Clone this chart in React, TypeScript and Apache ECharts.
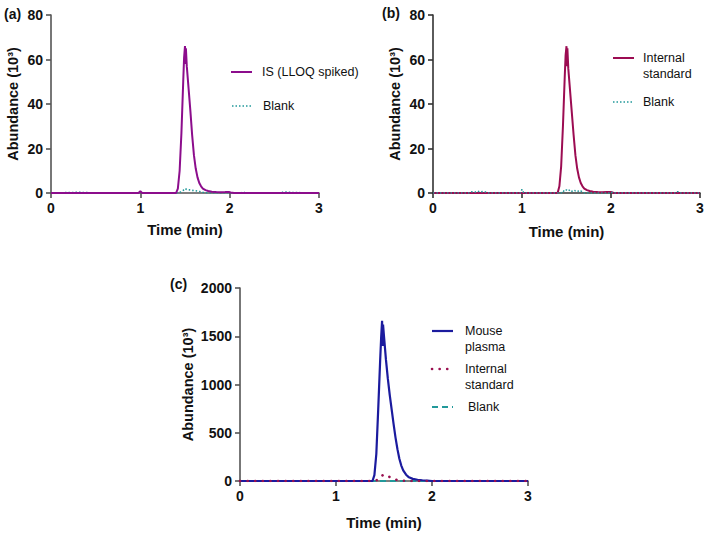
import React, { useEffect, useRef } from "react";
import * as echarts from "echarts";

// ---------- data ----------
const xTicks = [0, 1, 2, 3];
const yTicksAB = [0, 20, 40, 60, 80];
const yTicksC = [0, 500, 1000, 1500, 2000];

// Panel (a)
const timeA = [0, 0.98, 1.0, 1.02, 1.4, 1.42, 1.44, 1.46, 1.48, 1.49, 1.5, 1.505, 1.51, 1.52, 1.54, 1.56, 1.58, 1.6, 1.62, 1.64, 1.66, 1.68, 1.7, 1.73, 1.76, 1.8, 1.85, 1.9, 1.95, 1.99, 2.01, 2.05, 3.0];
const isSpikedA = [0, 0, 0.8, 0, 0, 2, 10, 27, 50, 61, 66, 58, 65, 57, 47, 37, 26, 17, 11, 7, 4.5, 3, 2, 1.3, 0.9, 0.6, 0.4, 0.3, 0.4, 0.5, 0.2, 0, 0];
const timeBlankA = [0, 0.2, 0.3, 0.4, 0.5, 0.98, 1.0, 1.02, 1.42, 1.45, 1.48, 1.5, 1.52, 1.55, 1.58, 1.62, 1.66, 1.7, 1.75, 2.13, 2.15, 2.17, 2.58, 2.6, 2.65, 2.7, 3.0];
const blankA = [0, 0.2, 0.3, 0.2, 0, 0, 0.5, 0, 0, 0.5, 1.2, 2, 1.6, 1.4, 1.2, 1.0, 0.7, 0.3, 0, 0, 0.6, 0, 0, 0.5, 0.4, 0.2, 0];

// Panel (b)
const timeB = [0, 1.4, 1.42, 1.44, 1.46, 1.48, 1.49, 1.5, 1.505, 1.51, 1.52, 1.54, 1.56, 1.58, 1.6, 1.62, 1.64, 1.66, 1.68, 1.7, 1.73, 1.76, 1.8, 1.85, 1.9, 1.95, 2.0, 2.03, 3.0];
const internalStdB = [0, 0, 3, 12, 30, 52, 62, 66, 57, 65, 56, 46, 36, 26, 17, 11, 7, 4.5, 3, 2, 1.3, 0.9, 0.6, 0.4, 0.3, 0.4, 0.5, 0, 0];
const timeBlankB = [0, 0.4, 0.43, 0.47, 0.5, 0.53, 0.57, 0.6, 0.63, 0.98, 1.0, 1.02, 1.44, 1.46, 1.48, 1.5, 1.52, 1.54, 1.56, 1.58, 1.6, 1.62, 1.64, 1.66, 1.68, 1.7, 1.98, 2.0, 2.02, 2.73, 2.75, 2.77, 3.0];
const blankB = [0, 0, 0.6, 0.3, 0.8, 0.4, 0.7, 0.3, 0, 0, 1.6, 0, 0, 1.0, 0.6, 1.4, 0.9, 1.5, 0.8, 1.3, 1.0, 1.2, 0.6, 0.9, 0.4, 0, 0, 0.5, 0, 0, 0.6, 0, 0];

// Panel (c)
const timeC = [0, 1.0, 1.38, 1.4, 1.42, 1.44, 1.46, 1.47, 1.48, 1.485, 1.49, 1.5, 1.52, 1.54, 1.56, 1.58, 1.6, 1.62, 1.64, 1.66, 1.68, 1.7, 1.73, 1.76, 1.8, 1.85, 1.9, 1.95, 2.0, 3.0];
const mousePlasmaC = [0, 0, 0, 60, 280, 750, 1250, 1480, 1660, 1400, 1620, 1500, 1260, 1060, 890, 740, 590, 450, 330, 230, 160, 110, 65, 38, 22, 13, 8, 5, 0, 0];
const timeIsC = [0, 1.4, 1.44, 1.48, 1.5, 1.52, 1.56, 1.6, 1.65, 1.7, 1.8, 3.0];
const internalStdC = [0, 0, 15, 55, 66, 60, 40, 20, 8, 3, 0, 0];
const timeBlankC = [0, 3.0];
const blankC = [0, 0];

// ---------- styles ----------
const FONT = "'Liberation Sans', Arial, Helvetica, sans-serif";
const PURPLE = "#8c0d8c";
const CRIMSON = "#9c0c52";
const NAVY = "#1b1b9e";
const MAROON = "#9a1050";
const TEAL = "#22999a";

const pairs = (xs: number[], ys: number[]) => xs.map((x, i) => [x, ys[i]]);

function makeXAxis(gridIndex: number, nameGap: number, axisColor: string) {
  return {
    type: "value",
    gridIndex,
    min: xTicks[0],
    max: xTicks[xTicks.length - 1],
    interval: 1,
    name: "Time (min)",
    nameLocation: "middle",
    nameGap,
    nameTextStyle: { fontFamily: FONT, fontWeight: "bold", fontSize: 15, color: "#111" },
    axisLine: { show: true, onZero: false, lineStyle: { color: axisColor, width: 1.6 } },
    axisTick: { show: true, length: 5, lineStyle: { color: axisColor, width: 1.6 } },
    axisLabel: { fontFamily: FONT, fontWeight: "bold", fontSize: 14, color: "#111", margin: 8, formatter: (v: number) => String(v) },
    splitLine: { show: false },
  };
}

function makeYAxis(gridIndex: number, ticks: number[], nameGap: number, axisColor: string) {
  return {
    type: "value",
    gridIndex,
    min: ticks[0],
    max: ticks[ticks.length - 1],
    interval: ticks[1] - ticks[0],
    name: "Abundance (10³)",
    nameLocation: "middle",
    nameGap,
    nameTextStyle: { fontFamily: FONT, fontWeight: "bold", fontSize: 14.5, color: "#111" },
    axisLine: { show: true, lineStyle: { color: axisColor, width: 1.6 } },
    axisTick: { show: true, length: 5, lineStyle: { color: axisColor, width: 1.6 } },
    axisLabel: { fontFamily: FONT, fontWeight: "bold", fontSize: 14, color: "#111", margin: 8, formatter: (v: number) => String(v) },
    splitLine: { show: false },
  };
}

function legendLine(x: number, y: number, color: string, width: number, dash: any, cap = "butt") {
  return {
    type: "line",
    shape: { x1: x, y1: y, x2: x + 21, y2: y },
    style: { stroke: color, lineWidth: width, lineDash: dash, lineCap: cap },
  };
}

function legendText(x: number, y: number, text: string) {
  return {
    type: "text",
    x,
    y,
    style: {
      text,
      fill: "#111",
      font: `12.5px ${FONT}`,
      textAlign: "left",
      textVerticalAlign: "middle",
      lineHeight: 16,
    },
  };
}

function panelLabel(x: number, y: number, text: string) {
  return {
    type: "text",
    x,
    y,
    style: {
      text,
      fill: "#111",
      font: `bold 14px ${FONT}`,
      textAlign: "left",
      textVerticalAlign: "middle",
    },
  };
}

export default function App() {
  const ref = useRef<HTMLDivElement>(null);

  useEffect(() => {
    document.body.style.margin = "0";
    const chart = echarts.init(ref.current!, null, { renderer: "svg" });
    const option: any = {
      animation: false,
      backgroundColor: "#ffffff",
      grid: [
        { left: 51, top: 15, width: 268, height: 178 },
        { left: 433, top: 15, width: 267, height: 178 },
        { left: 240, top: 288, width: 288, height: 193 },
      ],
      xAxis: [
        makeXAxis(0, 29, "#555"),
        makeXAxis(1, 31, "#333"),
        makeXAxis(2, 34, "#555"),
      ],
      yAxis: [
        makeYAxis(0, yTicksAB, 31, "#555"),
        makeYAxis(1, yTicksAB, 31, "#333"),
        makeYAxis(2, yTicksC, 45, "#555"),
      ],
      series: [
        {
          name: "Blank (a)",
          type: "line",
          xAxisIndex: 0,
          yAxisIndex: 0,
          data: pairs(timeBlankA, blankA),
          showSymbol: false,
          symbol: "none",
          lineStyle: { color: TEAL, width: 1.6, type: [1.5, 2] },
          z: 2,
        },
        {
          name: "IS (LLOQ spiked)",
          type: "line",
          xAxisIndex: 0,
          yAxisIndex: 0,
          data: pairs(timeA, isSpikedA),
          showSymbol: false,
          symbol: "none",
          lineStyle: { color: PURPLE, width: 2 },
          z: 3,
        },
        {
          name: "Internal standard (b)",
          type: "line",
          xAxisIndex: 1,
          yAxisIndex: 1,
          data: pairs(timeB, internalStdB),
          showSymbol: false,
          symbol: "none",
          lineStyle: { color: CRIMSON, width: 2 },
          z: 2,
        },
        {
          name: "Blank (b)",
          type: "line",
          xAxisIndex: 1,
          yAxisIndex: 1,
          data: pairs(timeBlankB, blankB),
          showSymbol: false,
          symbol: "none",
          lineStyle: { color: TEAL, width: 1.6, type: [1.5, 2] },
          z: 3,
        },
        {
          name: "Blank (c)",
          type: "line",
          xAxisIndex: 2,
          yAxisIndex: 2,
          data: pairs(timeBlankC, blankC),
          showSymbol: false,
          symbol: "none",
          lineStyle: { color: TEAL, width: 2, type: [6, 4] },
          z: 1,
        },
        {
          name: "Mouse plasma",
          type: "line",
          xAxisIndex: 2,
          yAxisIndex: 2,
          data: pairs(timeC, mousePlasmaC),
          showSymbol: false,
          symbol: "none",
          lineStyle: { color: NAVY, width: 2.2 },
          z: 2,
        },
        {
          name: "Internal standard (c)",
          type: "line",
          xAxisIndex: 2,
          yAxisIndex: 2,
          data: pairs(timeIsC, internalStdC),
          showSymbol: false,
          symbol: "none",
          lineStyle: { color: MAROON, width: 2.6, type: [0.1, 7.5], cap: "round" },
          z: 3,
        },
      ],
      graphic: [
        panelLabel(4, 14, "(a)"),
        panelLabel(382, 13, "(b)"),
        panelLabel(170, 284, "(c)"),
        // legend (a)
        legendLine(231, 72, PURPLE, 2, null),
        legendText(262, 72, "IS (LLOQ spiked)"),
        legendLine(232, 106, TEAL, 1.6, [1.5, 2]),
        legendText(263, 106, "Blank"),
        // legend (b)
        legendLine(613, 58, CRIMSON, 2, null),
        legendText(643, 66, "Internal\nstandard"),
        legendLine(613, 102, TEAL, 1.6, [1.5, 2]),
        legendText(643, 102, "Blank"),
        // legend (c)
        legendLine(432, 331, NAVY, 2.2, null),
        legendText(465, 339, "Mouse\nplasma"),
        legendLine(432, 369, MAROON, 2.6, [0.1, 7.5], "round"),
        legendText(465, 377, "Internal\nstandard"),
        legendLine(432, 407, TEAL, 2, [6, 4]),
        legendText(468, 407, "Blank"),
      ],
    };
    chart.setOption(option);
    return () => chart.dispose();
  }, []);

  return (
    <div
      ref={ref}
      style={{ position: "absolute", left: 0, top: 0, width: 709, height: 536, background: "#fff" }}
    />
  );
}
